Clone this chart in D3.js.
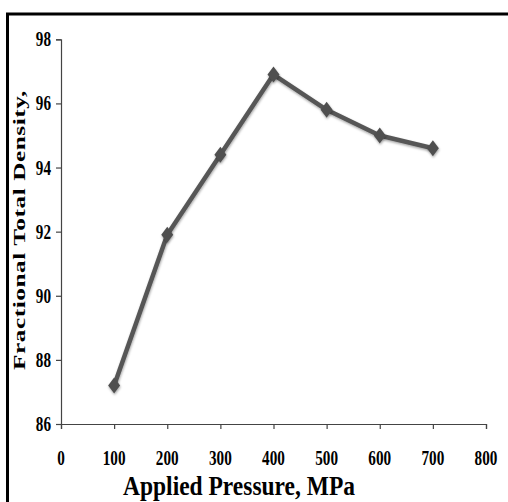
<!DOCTYPE html>
<html>
<head>
<meta charset="utf-8">
<script src="https://cdn.jsdelivr.net/npm/d3@7"></script>
<style>
  html, body { margin: 0; padding: 0; background: #fff; }
  svg { display: block; }
  text { font-family: "Liberation Serif", "Times New Roman", serif; font-weight: bold; fill: #000; }
</style>
</head>
<body>
<div id="chart"></div>
<script>
const pressure = [100, 200, 300, 400, 500, 600, 700];
const density = [87.2, 91.9, 94.4, 96.9, 95.8, 95.0, 94.6];
const xTicks = [0, 100, 200, 300, 400, 500, 600, 700, 800];
const yTicks = [86, 88, 90, 92, 94, 96, 98];

const width = 508, height = 502;
const margin = { left: 61, top: 39.3, right: 22, bottom: 78 };

const svg = d3.select("#chart")
    .append("svg")
    .attr("width", width)
    .attr("height", height);

// outer frame (only top and left edges visible in the picture)
svg.append("rect")
    .attr("x", 7.5).attr("y", 14)
    .attr("width", 540).attr("height", 540)
    .attr("fill", "none")
    .attr("stroke", "#000")
    .attr("stroke-width", 3);

const x = d3.scaleLinear().domain([0, 800]).range([margin.left, width - margin.right]);
const y = d3.scaleLinear().domain([86, 98]).range([height - margin.bottom, margin.top]);

const defs = svg.append("defs");
const f = defs.append("filter").attr("id", "shadow")
    .attr("x", "-50%").attr("y", "-50%").attr("width", "200%").attr("height", "200%");
f.append("feDropShadow")
    .attr("dx", 0.5).attr("dy", 1.5).attr("stdDeviation", 1.2)
    .attr("flood-color", "#000").attr("flood-opacity", 0.35);

// axes
const xAxis = svg.append("g")
    .attr("transform", `translate(0,${y(86)})`)
    .call(d3.axisBottom(x).tickValues(xTicks).tickSize(5).tickFormat(""));
const yAxis = svg.append("g")
    .attr("transform", `translate(${x(0)},0)`)
    .call(d3.axisLeft(y).tickValues(yTicks).tickSize(5).tickFormat(""));
[xAxis, yAxis].forEach(a => {
    a.select(".domain").attr("stroke", "#444").attr("stroke-width", 1.2);
    a.selectAll(".tick line").attr("stroke", "#444").attr("stroke-width", 1.2);
});

// tick labels (narrow bold serif)
const sx = 0.76;
svg.append("g").selectAll("text")
    .data(xTicks)
    .join("text")
    .attr("transform", d => `translate(${x(d)},465) scale(${sx},1)`)
    .attr("text-anchor", "middle")
    .style("font-size", "20px")
    .text(d => d);

svg.append("g").selectAll("text")
    .data(yTicks)
    .join("text")
    .attr("transform", d => `translate(51,${y(d) + 7}) scale(${sx},1)`)
    .attr("text-anchor", "end")
    .style("font-size", "20px")
    .text(d => d);

// axis titles
const xt = svg.append("text")
    .attr("text-anchor", "middle")
    .style("font-size", "27px")
    .text("Applied Pressure, MPa");
const xw = xt.node().getComputedTextLength();
xt.attr("transform", `translate(239,495) scale(${232 / xw},1)`);

const yt = svg.append("text")
    .attr("text-anchor", "middle")
    .style("font-size", "22px")
    .style("letter-spacing", "0.5px")
    .text("Fractional Total Density,");
const yw = yt.node().getComputedTextLength();
yt.attr("transform", `translate(25,230) rotate(-90) scale(${280 / yw},0.8)`);

// series line
const line = d3.line()
    .x((d, i) => x(pressure[i]))
    .y(d => y(d));

svg.append("path")
    .datum(density)
    .attr("d", line)
    .attr("fill", "none")
    .attr("stroke", "#575757")
    .attr("stroke-width", 4.5)
    .attr("stroke-linejoin", "round")
    .attr("filter", "url(#shadow)");

svg.append("g").selectAll("path")
    .data(density)
    .join("path")
    .attr("d", "M0,-8 L6,0 L0,8 L-6,0 Z")
    .attr("transform", (d, i) => `translate(${x(pressure[i])},${y(d)})`)
    .attr("fill", "#505050")
    .attr("filter", "url(#shadow)");
</script>
</body>
</html>
